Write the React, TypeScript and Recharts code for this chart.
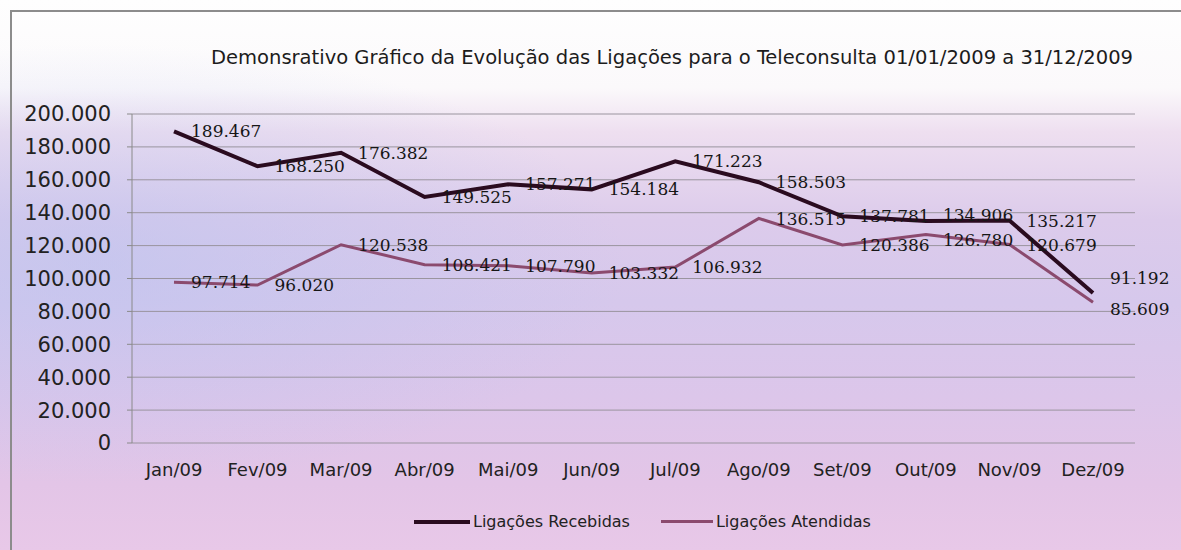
import React from 'react';
import { LineChart, Line, XAxis, YAxis, CartesianGrid, LabelList } from 'recharts';

const months = ['Jan/09', 'Fev/09', 'Mar/09', 'Abr/09', 'Mai/09', 'Jun/09', 'Jul/09', 'Ago/09', 'Set/09', 'Out/09', 'Nov/09', 'Dez/09'];
const recebidas = [189467, 168250, 176382, 149525, 157271, 154184, 171223, 158503, 137781, 134906, 135217, 91192];
const atendidas = [97714, 96020, 120538, 108421, 107790, 103332, 106932, 136515, 120386, 126780, 120679, 85609];
const yTicks = [0, 20000, 40000, 60000, 80000, 100000, 120000, 140000, 160000, 180000, 200000];
const boundaryTicks = [0, 1, 2, 3, 4, 5, 6, 7, 8, 9, 10, 11, 12];
const title = 'Demonsrativo Gráfico da Evolução das Ligações para o Teleconsulta 01/01/2009 a 31/12/2009';
const seriesNames = ['Ligações Recebidas', 'Ligações Atendidas'];

// vertical nudges (px) of a few data labels so they do not sit on each other
const recLabelShift: Record<number, number> = { 9: -6, 11: -15 };
const ateLabelShift: Record<number, number> = { 9: 5, 11: 7 };

const data = months.map((m, i) => ({ month: m, idx: i, recebidas: recebidas[i], atendidas: atendidas[i] }));

const fmt = (v: number) => String(v).replace(/\B(?=(\d{3})+(?!\d))/g, '.');

const COLOR_REC = '#2a0b1f';
const COLOR_ATE = '#8b4a6e';

const makeLabel = (shifts: Record<number, number>) => (props: any) => {
  const { x, y, value, index } = props;
  const s = shifts[index] || 0;
  return (
    <text x={x + 17} y={y + s} dy="0.36em" textAnchor="start" fontFamily="DejaVu Serif" fontSize={17} fill="#161616">
      {fmt(value)}
    </text>
  );
};

export default function App() {
  return (
    <div
      style={{
        position: 'absolute',
        left: 0,
        top: 0,
        width: 1181,
        height: 550,
        overflow: 'hidden',
        background:
          'radial-gradient(ellipse 45% 40% at 8% 48%, rgba(185,195,240,0.55), rgba(185,195,240,0) 100%), linear-gradient(180deg, #fefefe 0%, #fbf9fb 16%, #eedff0 24%, #dccbeb 40%, #d6c8ec 55%, #dcc6ea 72%, #e3c5e7 88%, #e8c8e8 100%)',
      }}
    >
      <div style={{ position: 'absolute', left: 10, top: 10, width: 1171, height: 540, borderTop: '2px solid #8c8c8c', borderLeft: '2px solid #8c8c8c' }} />
      <svg width={1181} height={90} style={{ position: 'absolute', left: 0, top: 0 }}>
        <text x={211} y={64} textLength={922} lengthAdjust="spacingAndGlyphs" fontFamily="DejaVu Sans Condensed" fontSize={19} fill="#1c1c1c">
          {title}
        </text>
      </svg>
      <div style={{ position: 'absolute', left: 0, top: 0 }}>
        <LineChart width={1181} height={550} data={data} margin={{ top: 114, right: 46, bottom: 77, left: 0 }}>
          <CartesianGrid vertical={false} stroke="#9a949e" strokeWidth={1} xAxisId="cat" />
          <XAxis
            xAxisId="grid"
            type="number"
            dataKey="idx"
            domain={[0, 12]}
            ticks={boundaryTicks}
            tick={false}
            tickSize={6}
            height={0}
            allowDataOverflow
            axisLine={{ stroke: '#8a8a8a' }}
            tickLine={{ stroke: '#8a8a8a' }}
          />
          <XAxis
            xAxisId="cat"
            dataKey="month"
            axisLine={false}
            tickLine={false}
            tickSize={0}
            tickMargin={20}
            height={30}
            interval={0}
            padding={{ left: 42, right: 42 }}
            tick={{ fill: '#222', fontSize: 18, fontFamily: 'DejaVu Sans' }}
          />
          <YAxis
            domain={[0, 200000]}
            ticks={yTicks}
            tickFormatter={fmt}
            width={132}
            tickSize={5}
            tickMargin={16}
            axisLine={{ stroke: '#8a8a8a' }}
            tickLine={{ stroke: '#8a8a8a' }}
            tick={{ fill: '#222', fontSize: 21, fontFamily: 'DejaVu Sans' }}
          />
          <Line xAxisId="cat" type="linear" dataKey="atendidas" stroke={COLOR_ATE} strokeWidth={3} dot={false} isAnimationActive={false}>
            <LabelList dataKey="atendidas" content={makeLabel(ateLabelShift)} />
          </Line>
          <Line xAxisId="cat" type="linear" dataKey="recebidas" stroke={COLOR_REC} strokeWidth={4} dot={false} isAnimationActive={false}>
            <LabelList dataKey="recebidas" content={makeLabel(recLabelShift)} />
          </Line>
        </LineChart>
      </div>
      <div style={{ position: 'absolute', left: 414, top: 512, display: 'flex', alignItems: 'center', fontFamily: 'DejaVu Sans', fontSize: 16, color: '#222' }}>
        <span style={{ display: 'inline-block', width: 56, height: 4, background: COLOR_REC, marginRight: 3 }} />
        <span>{seriesNames[0]}</span>
        <span style={{ display: 'inline-block', width: 52, height: 3, background: COLOR_ATE, marginLeft: 31, marginRight: 3 }} />
        <span>{seriesNames[1]}</span>
      </div>
    </div>
  );
}
